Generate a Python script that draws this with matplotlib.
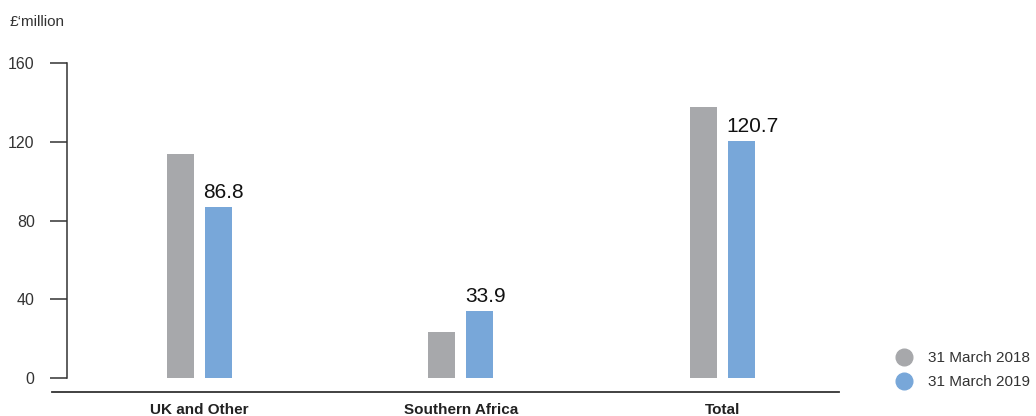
import matplotlib.pyplot as plt
from matplotlib.lines import Line2D
import numpy as np

plt.rcParams["font.family"] = ["Liberation Sans", "DejaVu Sans"]

# values (GBP million)
categories = ["UK and Other", "Southern Africa", "Total"]
march_2018 = [114.0, 23.5, 138.0]
march_2019 = [86.8, 33.9, 120.7]
value_labels = ["86.8", "33.9", "120.7"]
series_names = ["31 March 2018", "31 March 2019"]
y_ticks = [0, 40, 80, 120, 160]

grey = "#a7a8ab"
blue = "#78a7d9"
ink = "#333333"

fig = plt.figure(figsize=(10.36, 4.16), dpi=100)
ax = fig.add_axes([51.7 / 1036, 24 / 416, (839.3 - 51.7) / 1036, (392 - 63.3) / 416])

x = np.arange(len(categories))
w = 0.104
off = 0.073
ax.bar(x - off, march_2018, w, color=grey)
bars = ax.bar(x + off, march_2019, w, color=blue)

for b, txt in zip(bars, value_labels):
    ax.text(b.get_x() - 0.005, b.get_height() + 2.5, txt, ha="left", va="bottom",
            fontsize=15, color="#111111", clip_on=False)

ax.set_xlim(-0.564, 2.447)
ax.set_ylim(-7.1, 160)

for s in ["top", "right"]:
    ax.spines[s].set_visible(False)
ax.spines["left"].set_position(("data", -0.507))
ax.spines["left"].set_bounds(0, 160)
ax.spines["left"].set_color(ink)
ax.spines["bottom"].set_color(ink)
ax.spines["left"].set_linewidth(1.1)
ax.spines["bottom"].set_linewidth(1.3)

ax.set_yticks(y_ticks)
ax.tick_params(axis="y", length=12, width=1.1, color=ink, pad=11,
               labelsize=11.5, labelcolor=ink)
ax.set_xticks(x)
ax.set_xticklabels(categories, fontsize=11, fontweight="bold", color="#222222")
ax.tick_params(axis="x", length=0, pad=8)

fig.text(10 / 1036, 1 - 22 / 416, "£‘million", fontsize=11, color=ink,
         ha="left", va="center")

handles = [Line2D([], [], ls="none", marker="o", markersize=12, color=c)
           for c in (grey, blue)]
fig.legend(handles, series_names, loc="center left",
           bbox_to_anchor=(895 / 1036, 1 - 370 / 416), frameon=False,
           fontsize=11, labelcolor=ink, handletextpad=0.95, labelspacing=0.65,
           handlelength=1.2, borderpad=0, borderaxespad=0)

fig.savefig("out.png", dpi=100)
